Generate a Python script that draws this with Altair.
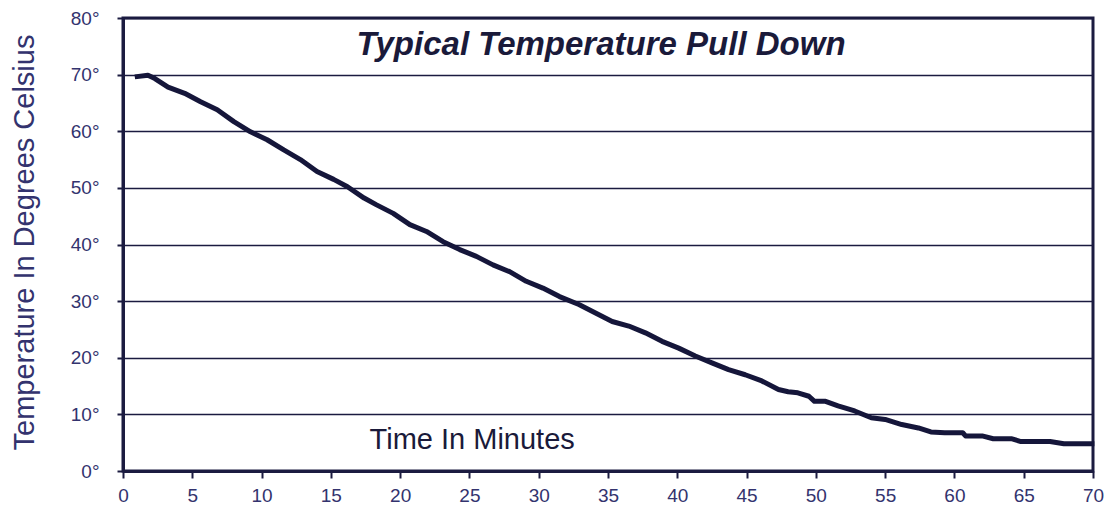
import altair as alt
import pandas as pd

minutes = [0.85, 1.8, 2.3, 3.25, 4.45, 5.6, 6.8, 8.0, 9.2, 10.4, 11.6, 12.8, 14.0, 15.2,
           16.2, 17.4, 18.3, 19.5, 20.7, 21.9, 23.1, 24.3, 25.5, 26.7, 27.9, 29.1, 30.3,
           31.5, 32.9, 34.1, 35.3, 36.5, 37.7, 38.9, 40.1, 41.3, 42.5, 43.7, 44.9, 46.1,
           47.3, 48.0, 48.7, 49.5, 49.9, 50.7, 51.6, 52.8, 54.0, 55.0, 56.2, 57.4, 58.3,
           59.3, 60.6, 60.8, 62.0, 62.8, 64.1, 64.8, 66.9, 67.9, 70.1]
temps = [69.6, 69.9, 69.3, 67.8, 66.7, 65.2, 63.8, 61.7, 59.9, 58.5, 56.7, 55.0, 52.9, 51.5,
         50.2, 48.2, 47.0, 45.5, 43.5, 42.3, 40.5, 39.1, 37.9, 36.4, 35.2, 33.5, 32.3,
         30.8, 29.4, 27.9, 26.4, 25.6, 24.4, 22.9, 21.7, 20.3, 19.1, 17.9, 17.0, 15.9,
         14.4, 14.0, 13.8, 13.2, 12.3, 12.3, 11.5, 10.6, 9.4, 9.1, 8.2, 7.6, 6.9,
         6.75, 6.75, 6.2, 6.2, 5.7, 5.7, 5.2, 5.2, 4.8, 4.8]

x_ticks = [0, 5, 10, 15, 20, 25, 30, 35, 40, 45, 50, 55, 60, 65, 70]
y_ticks = [0, 10, 20, 30, 40, 50, 60, 70, 80]

title_text = "Typical Temperature Pull Down"
x_title = "Time In Minutes"
y_title = "Temperature In Degrees Celsius"

FONT = "Liberation Sans"
DARK = "#1b1b40"
LABEL = "#33336e"

df = pd.DataFrame({"t": minutes, "T": temps})

xscale = alt.Scale(domain=[0, 70], nice=False)
yscale = alt.Scale(domain=[0, 80], nice=False)

line = alt.Chart(df).mark_line(color="#15163a", strokeWidth=5, strokeJoin="round", clip=False).encode(
    x=alt.X("t:Q", scale=xscale, axis=alt.Axis(
        values=x_ticks, title=None, grid=False, domainColor=DARK, domainWidth=3,
        tickColor=DARK, tickWidth=2, tickSize=7, labelFontSize=19, labelColor=LABEL,
        labelFont=FONT, labelPadding=8, labelFlush=False)),
    y=alt.Y("T:Q", scale=yscale, axis=alt.Axis(
        values=y_ticks, title=y_title, grid=True, gridColor=DARK, gridWidth=1.5,
        domainColor=DARK, domainWidth=3, tickColor=DARK, tickWidth=2, tickSize=6,
        labelFontSize=19, labelColor=LABEL, labelFont=FONT, labelPadding=18,
        labelExpr="datum.value + '°'", labelFlush=False,
        titleFont=FONT, titleFontSize=29, titleFontWeight="normal", titleColor=LABEL,
        titleX=-90, titleY=224, titleAlign="center", titleBaseline="alphabetic", titleAngle=270)),
)

title_df = pd.DataFrame({"t": [34.5], "T": [75.3], "label": [title_text]})
title = alt.Chart(title_df).mark_text(
    font=FONT, fontSize=33, fontWeight="bold", fontStyle="italic", color="#1a1a3a",
    align="center", baseline="middle").encode(
    x=alt.X("t:Q", scale=xscale), y=alt.Y("T:Q", scale=yscale), text="label:N")

xt_df = pd.DataFrame({"t": [25.2], "T": [5.5], "label": [x_title]})
xt = alt.Chart(xt_df).mark_text(
    font=FONT, fontSize=29, color="#1a1a3a", align="center", baseline="middle").encode(
    x=alt.X("t:Q", scale=xscale), y=alt.Y("T:Q", scale=yscale), text="label:N")

chart = alt.layer(line, title, xt).properties(
    width=970, height=453,
    autosize=alt.AutoSizeParams(type="none"),
    padding={"left": 115, "top": 10, "right": 11, "bottom": 35},
    background="white",
).configure_view(stroke=DARK, strokeWidth=3)

chart.save("out.html", embed_options={"renderer": "svg", "actions": False})
